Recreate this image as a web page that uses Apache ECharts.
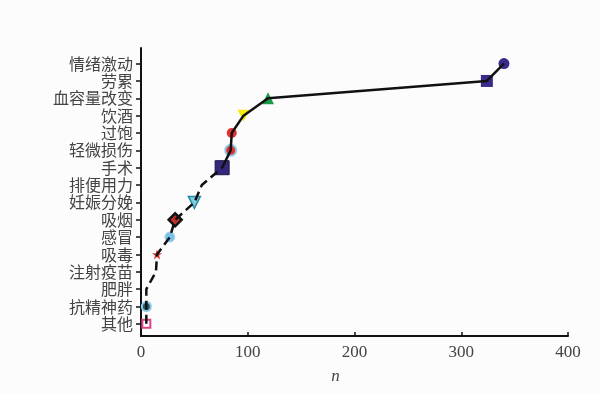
<!DOCTYPE html>
<html><head><meta charset="utf-8">
<script src="https://cdn.jsdelivr.net/npm/echarts@6/dist/echarts.min.js"></script>
<style>html,body{margin:0;padding:0;background:#fdfcfc}#c{width:600px;height:394px}</style>
</head><body><div id="c"></div>
<script>
const categories = ['其他','抗精神药','肥胖','注射疫苗','吸毒','感冒','吸烟','妊娠分娩','排便用力','手术','轻微损伤','过饱','饮酒','血容量改变','劳累','情绪激动'];
const nValues = [5, 5, 5, 14, 15, 27, 32, 50, 57, 76, 84, 85, 96, 119, 324, 340];
const xTicks = [0, 100, 200, 300, 400];
const dashedUpTo = 9;

const star = 'path://M0,-10 L2.5,-3 L9.5,-3 L4,1.5 L6,9 L0,4.5 L-6,9 L-4,1.5 L-9.5,-3 L-2.5,-3 Z';
const markerStyles = [
  {symbol:'rect', size:8, color:'#fff', border:'#e0408a', bw:2},
  {symbol:'circle', size:9, color:'#2a5c6a', border:'#8fcbe8', bw:2},
  null, null,
  {symbol:star, size:10, color:'#e03a2a', border:'#e03a2a', bw:0},
  {symbol:'circle', size:10, color:'#7cc0e6', border:'#a8d8f0', bw:1},
  {symbol:'diamond', size:13, color:'#c0302a', border:'#111', bw:2.5},
  {symbol:'triangle', size:12, color:'#7ecfe0', border:'#2a8aa8', bw:1.5, rotate:180},
  null,
  {symbol:'rect', size:14, color:'#34287e', border:'#1c1640', bw:1},
  {symbol:'circle', size:11, color:'#e03030', border:'#8fcbe8', bw:2},
  {symbol:'circle', size:10, color:'#e03030', border:'#e03030', bw:0},
  {symbol:'triangle', size:12, color:'#f4ec10', border:'#f4ec10', bw:0, rotate:180},
  {symbol:'triangle', size:12, color:'#1a9a44', border:'#1a9a44', bw:0},
  {symbol:'rect', size:12, color:'#3a2a8a', border:'#3a2a8a', bw:0},
  {symbol:'circle', size:11, color:'#3a2a8a', border:'#3a2a8a', bw:0}
];

const pts = nValues.map((v,i)=>[v,i]);
const dashedData = pts.slice(0, dashedUpTo+1);
const solidData = pts.slice(dashedUpTo);
const markerData = [];
pts.forEach((p,i)=>{
  const s = markerStyles[i];
  if(!s) return;
  markerData.push({value:p, symbol:s.symbol, symbolSize:s.size, symbolRotate:s.rotate||0,
    itemStyle:{color:s.color, borderColor:s.border, borderWidth:s.bw, opacity:1}});
});

const chart = echarts.init(document.getElementById('c'));
chart.setOption({
  backgroundColor:'#fdfcfc',
  animation:false,
  grid:{left:141, right:32, top:48, bottom:58},
  xAxis:{type:'value', min:0, max:400, interval:100,
    axisLine:{onZero:false, lineStyle:{color:'#111', width:2}},
    axisTick:{inside:true, length:4, lineStyle:{color:'#111', width:1.5}},
    axisLabel:{color:'#444', fontFamily:'Liberation Serif', fontSize:17, margin:8,
      customValues:xTicks},
    splitLine:{show:false},
    name:'n', nameLocation:'middle', nameGap:32,
    nameTextStyle:{fontFamily:'Liberation Serif', fontStyle:'italic', fontSize:17, color:'#444', padding:[0,38,0,0]}
  },
  yAxis:{type:'value', min:-0.7, max:15.9,
    axisLine:{show:true, onZero:false, lineStyle:{color:'#111', width:2}},
    axisTick:{show:true, length:5, lineStyle:{color:'#111', width:1.5}, customValues:categories.map((c,i)=>i)},
    axisLabel:{color:'#444', fontFamily:'Noto Sans CJK SC', fontSize:16, margin:8,
      customValues:categories.map((c,i)=>i), formatter:v=>categories[Math.round(v)]},
    splitLine:{show:false}
  },
  series:[
    {type:'scatter', data:markerData, z:2, itemStyle:{opacity:1}},
    {type:'line', data:dashedData, symbol:'none', lineStyle:{color:'#111', width:2.5, type:[9,5]}, z:3},
    {type:'line', data:solidData, symbol:'none', lineStyle:{color:'#111', width:2.5}, z:3}
  ]
});
</script></body></html>
